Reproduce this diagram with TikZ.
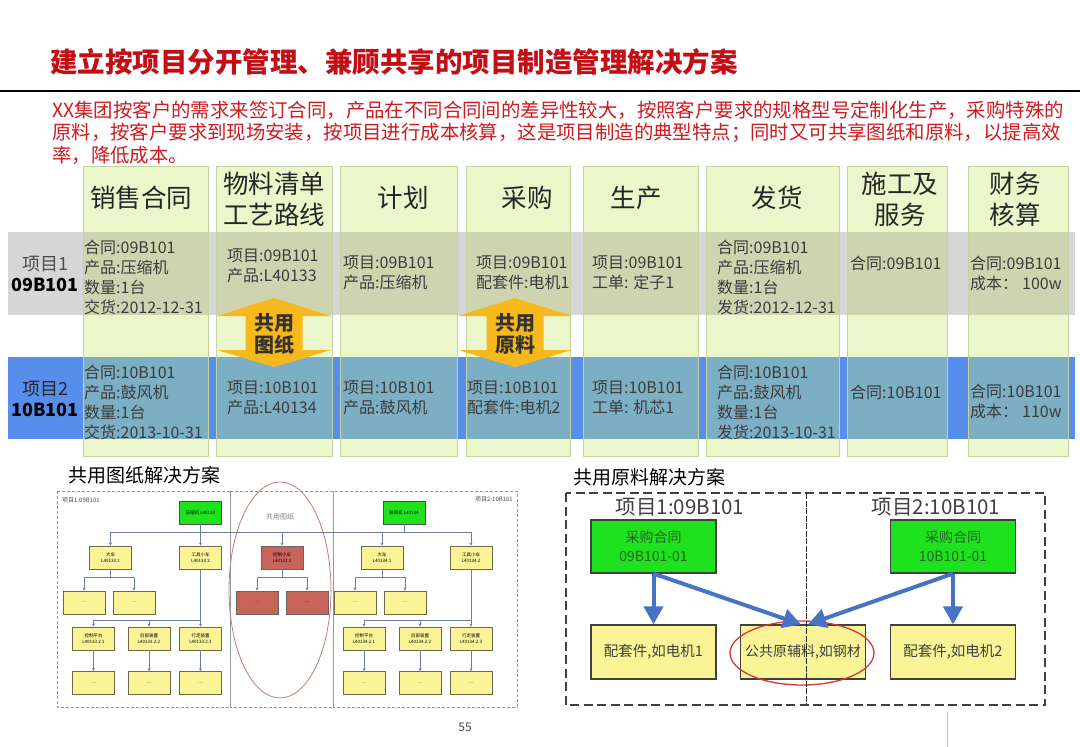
\documentclass[tikz,border=0pt]{standalone}
\usepackage{fontspec}
\setmainfont{Noto Sans CJK SC}
\usetikzlibrary{arrows.meta}
\definecolor{colg}{RGB}{236,246,203}
\definecolor{colborder}{RGB}{196,212,160}
\definecolor{rowgray}{RGB}{214,214,214}
\definecolor{rowgg}{RGB}{206,212,176}
\definecolor{rowblue}{RGB}{88,142,235}
\definecolor{rowteal}{RGB}{124,174,196}
\definecolor{gold}{RGB}{247,184,28}
\definecolor{titlered}{RGB}{196,14,22}
\definecolor{txtred}{RGB}{206,26,32}
\definecolor{celltxt}{RGB}{60,60,60}
\definecolor{treeline}{RGB}{110,125,165}
\definecolor{treeyellow}{RGB}{250,244,150}
\definecolor{treeborder}{RGB}{110,105,70}
\definecolor{brightgreen}{RGB}{30,226,30}
\definecolor{redbox}{RGB}{200,100,90}
\definecolor{arrowblue}{RGB}{72,114,196}
\definecolor{dashgray}{RGB}{150,150,150}
\begin{document}
\begin{tikzpicture}[x=1pt,y=-1pt,
  hdr/.style={font=\fontsize{25.5}{31}\selectfont, text=black!85, align=center, inner sep=0},
  cell/.style={font=\fontsize{16}{20}\selectfont, text=celltxt, align=left, anchor=west, inner sep=0},
  rowlab/.style={font=\fontsize{18}{22}\selectfont, align=center, inner sep=0},
  colbox/.style={fill=colg, draw=colborder, line width=0.8pt, inner sep=0},
  sharetxt/.style={font=\fontsize{20}{22}\selectfont\bfseries, text=black!80, align=center, inner sep=0},
  treebox/.style={draw=treeborder, fill=treeyellow, minimum width=42pt, minimum height=23pt, inner sep=0, font=\fontsize{4.5}{5.5}\selectfont, align=center, line width=0.8pt},
  greenbox/.style={treebox, fill=brightgreen, draw=black!70},
  redbx/.style={treebox, fill=redbox, draw=black!60},
  tline/.style={draw=treeline, line width=0.7pt},
  tarrow/.style={tline, -{Stealth[length=3pt,width=3pt]}},
  tdash/.style={draw=dashgray, line width=0.7pt, dash pattern=on 3pt off 2pt},
  pbox/.style={draw=black!75, line width=1.2pt, minimum width=125pt, inner sep=0, align=center},
  barrow/.style={draw=arrowblue, line width=4pt, -{Triangle[length=18pt,width=19pt]}}
]
\useasboundingbox (0,0) rectangle (1080,747);
\fill[white] (0,0) rectangle (1080,747);

% title
\node[anchor=west, inner sep=0, text=titlered, font=\fontsize{27.5}{30}\selectfont\bfseries] (title) at (50,62) {建立按项目分开管理、兼顾共享的项目制造管理解决方案};
\draw[black, line width=2.5pt] (0,91) -- (1080,91);

% paragraph
\node[anchor=west, inner sep=0, text=txtred, font=\fontsize{19.4}{23}\selectfont] (p1) at (52,110) {XX集团按客户的需求来签订合同，产品在不同合同间的差异性较大，按照客户要求的规格型号定制化生产，采购特殊的};
\node[anchor=west, inner sep=0, text=txtred, font=\fontsize{19.4}{23}\selectfont] (p2) at (52,133) {原料，按客户要求到现场安装，按项目进行成本核算，这是项目制造的典型特点；同时又可共享图纸和原料，以提高效};
\node[anchor=west, inner sep=0, text=txtred, font=\fontsize{19.4}{23}\selectfont] (p3) at (52,155) {率，降低成本。};

% columns
\foreach \a/\b [count=\i] in {83/208,216/332,340/457,466/570,583/698,706/839,847/947,968/1068}
  \node[colbox, minimum width={\b-\a}, minimum height=290, anchor=north west] (col\i) at (\a,166) {};

% rows
\fill[rowgray] (8,232) rectangle (1075,315);
\fill[rowblue] (8,357) rectangle (1075,439);
\foreach \a/\b in {83/208,216/332,340/457,466/570,583/698,706/839,847/947,968/1068}{
  \fill[rowgg] (\a,232) rectangle (\b,315);
  \fill[rowteal] (\a,357) rectangle (\b,439);
}
\foreach \i in {1,...,8}
  \draw[colborder, line width=0.8pt] (col\i.north west) rectangle (col\i.south east);

% row labels
\node[rowlab, text=black!70] (r1) at (45,274) {项目1\\[-1pt]\textcolor{black}{\textbf{09B101}}};
\node[rowlab, text=black!85] (r2) at (45,399) {项目2\\[-1pt]\textcolor{black}{\textbf{10B101}}};

% headers
\node[hdr] (h1) at (141,198) {销售合同};
\node[hdr] (h2) at (274,199) {物料清单\\工艺路线};
\node[hdr] (h3) at (403,198) {计划};
\node[hdr] (h4) at (527,198) {采购};
\node[hdr] (h5) at (636,198) {生产};
\node[hdr] (h6) at (777,198) {发货};
\node[hdr] (h7) at (900,199) {施工及\\服务};
\node[hdr] (h8) at (1015,199) {财务\\核算};

% row 1 cells
\node[cell] (c11) at (84,277) {合同:09B101\\产品:压缩机\\数量:1台\\交货:2012-12-31};
\node[cell] (c12) at (227,265.5) {项目:09B101\\产品:L40133};
\node[cell] (c13) at (343,273) {项目:09B101\\产品:压缩机};
\node[cell] (c14) at (476,273) {项目:09B101\\配套件:电机1};
\node[cell] (c15) at (592,273) {项目:09B101\\工单: 定子1};
\node[cell] (c16) at (717,277) {合同:09B101\\产品:压缩机\\数量:1台\\发货:2012-12-31};
\node[cell] (c17) at (850,263) {合同:09B101};
\node[cell] (c18) at (970,273) {合同:09B101\\成本：\hspace{4pt}100w};
% row 2 cells
\node[cell] (c21) at (84,402) {合同:10B101\\产品:鼓风机\\数量:1台\\交货:2013-10-31};
\node[cell] (c22) at (227,398) {项目:10B101\\产品:L40134};
\node[cell] (c23) at (343,398) {项目:10B101\\产品:鼓风机};
\node[cell] (c24) at (467,398) {项目:10B101\\配套件:电机2};
\node[cell] (c25) at (592,398) {项目:10B101\\工单: 机芯1};
\node[cell] (c26) at (717,402) {合同:10B101\\产品:鼓风机\\数量:1台\\发货:2013-10-31};
\node[cell] (c27) at (850,392) {合同:10B101};
\node[cell] (c28) at (970,401) {合同:10B101\\成本：\hspace{4pt}110w};

% shared double arrows
\foreach \cx in {274,515}
  \fill[gold] (\cx,298) -- (\cx+57,316) -- (\cx+28.5,316) -- (\cx+28.5,350) -- (\cx+57,350) -- (\cx,367)
     -- (\cx-57,350) -- (\cx-28.5,350) -- (\cx-28.5,316) -- (\cx-57,316) -- cycle;
\node[sharetxt] (s1) at (274,334) {共用\\图纸};
\node[sharetxt] (s2) at (515,334) {共用\\原料};

% ---------- bottom left ----------
\node[anchor=west, inner sep=0, font=\fontsize{19}{21}\selectfont] (bl) at (68,475) {共用图纸解决方案};
\draw[tdash] (57,491) rectangle (230,707);
\draw[tdash] (230,491) rectangle (333,707);
\draw[tdash] (333,491) rectangle (517,707);
\node[anchor=west, inner sep=0, font=\fontsize{6}{7}\selectfont, text=black!70] (lp1) at (62,500) {项目1:09B101};
\node[anchor=east, inner sep=0, font=\fontsize{6}{7}\selectfont, text=black!70] (lp2) at (513,499) {项目2:10B101};
\node[inner sep=0, font=\fontsize{7}{8}\selectfont, text=black!50] (gt) at (280,517) {共用图纸};
\draw[draw={rgb,255:red,205;green,120;blue,120}, line width=0.8pt] (280,590) ellipse [x radius=51, y radius=108];

\coordinate (busA) at (0,532);
\coordinate (busB) at (0,577);
\coordinate (busC) at (0,620);

\node[greenbox] (gL) at (200.5,512.5) {压缩机 L40133};
\node[treebox] (bL1) at (110.5,557.5) {大车\\L40133.1};
\node[treebox] (bL2) at (200.5,557.5) {工具小车\\L40133.2};
\node[treebox] (cL1) at (84,602.5) {…};
\node[treebox] (cL2) at (134,602.5) {…};
\node[treebox] (dL1) at (93.5,638.5) {控制平台\\L40133.2.1};
\node[treebox] (dL2) at (149,638.5) {后部装置\\L40133.2.2};
\node[treebox] (dL3) at (200.5,638.5) {行走装置\\L40133.2.3};
\node[treebox] (eL1) at (93.5,683) {…};
\node[treebox] (eL2) at (149,683) {…};
\node[treebox] (eL3) at (200.5,683) {…};

\node[redbx] (m0) at (282,557.5) {控制小车\\L40133.3};
\node[redbx] (m1) at (257,602.5) {…};
\node[redbx] (m2) at (307,602.5) {…};

\node[greenbox] (gR) at (404,512.5) {鼓风机 L40134};
\node[treebox] (bR1) at (382,557.5) {大车\\L40134.1};
\node[treebox] (bR2) at (471,557.5) {工具小车\\L40134.2};
\node[treebox] (cR1) at (355,602.5) {…};
\node[treebox] (cR2) at (405,602.5) {…};
\node[treebox] (dR1) at (364,638.5) {控制平台\\L40134.2.1};
\node[treebox] (dR2) at (420,638.5) {后部装置\\L40134.2.2};
\node[treebox] (dR3) at (471,638.5) {行走装置\\L40134.2.3};
\node[treebox] (eR1) at (364,683) {…};
\node[treebox] (eR2) at (420,683) {…};
\node[treebox] (eR3) at (471,683) {…};

\draw[tline] (gL.south) -- (gL.south |- busA);
\draw[tline] (gR.south) -- (gR.south |- busA);
\draw[tline] (bL1.north |- busA) -- (bR2.north |- busA);
\foreach \n in {bL1,bL2,m0,bR1,bR2}
  \draw[tarrow] (\n.north |- busA) -- (\n.north);
% level 2
\foreach \p/\l/\r in {bL1/cL1/cL2, m0/m1/m2, bR1/cR1/cR2}{
  \draw[tline] (\p.south) -- (\p.south |- busB);
  \draw[tline] (\l.north |- busB) -- (\r.north |- busB);
  \draw[tarrow] (\l.north |- busB) -- (\l.north);
  \draw[tarrow] (\r.north |- busB) -- (\r.north);
}
\foreach \p/\a/\b/\c in {bL2/dL1/dL2/dL3, bR2/dR1/dR2/dR3}{
  \draw[tline] (\p.south) -- (\p.south |- busC);
  \draw[tline] (\a.north |- busC) -- (\c.north |- busC);
  \draw[tarrow] (\a.north |- busC) -- (\a.north);
  \draw[tarrow] (\b.north |- busC) -- (\b.north);
  \draw[tarrow] (\c.north |- busC) -- (\c.north);
}
\foreach \a/\b in {dL1/eL1,dL2/eL2,dL3/eL3,dR1/eR1,dR2/eR2,dR3/eR3}
  \draw[tarrow] (\a.south) -- (\b.north);

% ---------- bottom right ----------
\node[anchor=west, inner sep=0, font=\fontsize{19}{21}\selectfont] (br) at (573,477) {共用原料解决方案};
\draw[draw=black!75, line width=2pt, dash pattern=on 9pt off 4.5pt] (566,493) rectangle (1045,705);
\node[inner sep=0, font=\fontsize{20.5}{22}\selectfont, text=black!75] (q1) at (680,507) {项目1:09B101};
\node[inner sep=0, font=\fontsize{20.5}{22}\selectfont, text=black!75] (q2) at (936,507) {项目2:10B101};

\node[pbox, fill=brightgreen, minimum height=53pt, text={rgb,255:red,40;green,95;blue,40}, font=\fontsize{14}{19}\selectfont] (pg1) at (653.5,546.5) {采购合同\\09B101-01};
\node[pbox, fill=brightgreen, minimum height=53pt, text={rgb,255:red,40;green,95;blue,40}, font=\fontsize{14}{19}\selectfont] (pg2) at (953,546.5) {采购合同\\10B101-01};
\node[pbox, fill=treeyellow, minimum height=54pt, text=black!75, font=\fontsize{14.5}{17}\selectfont] (py1) at (653.5,652) {配套件,如电机1};
\node[pbox, fill=treeyellow, minimum height=54pt, text=black!75, font=\fontsize{14}{17}\selectfont] (py2) at (803,652) {公共原辅料,如钢材};
\node[pbox, fill=treeyellow, minimum height=54pt, text=black!75, font=\fontsize{14.5}{17}\selectfont] (py3) at (953,652) {配套件,如电机2};
\draw[draw={rgb,255:red,215;green,55;blue,55}, line width=1.3pt] (802,653) ellipse [x radius=72, y radius=32];

\draw[barrow] (pg1.south) -- (py1.north);
\draw[barrow] (pg1.south) -- ([xshift=-2pt]py2.north);
\draw[barrow] (pg2.south) -- ([xshift=5pt]py2.north);
\draw[barrow] (pg2.south) -- (py3.north);
\draw[black!85, line width=1pt, dash pattern=on 6pt off 1.5pt] (806,493) -- (806,705);

% page number and stray line
\node[inner sep=0, font=\fontsize{12}{13}\selectfont, text=black!70] (pn) at (465,727) {55};
\draw[black!25, line width=0.8pt] (947,712) -- (947,747);
\end{tikzpicture}
\end{document}
